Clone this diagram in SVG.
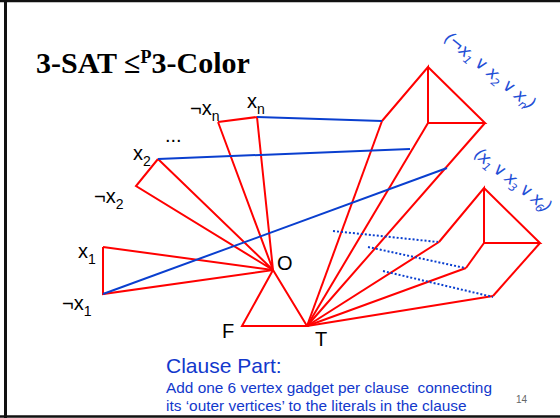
<svg xmlns="http://www.w3.org/2000/svg" width="560" height="418" viewBox="0 0 560 418">
<style>
.red{stroke:#ff0000;stroke-width:2;fill:none;stroke-linejoin:miter}
.blue{stroke:#0a3fcf;stroke-width:2;fill:none}
.dot{stroke:#0a3fcf;stroke-width:2;stroke-dasharray:2 2;fill:none}
.lbl{font-family:"Liberation Sans",Arial,sans-serif;font-size:20px;fill:#000}
.sub{font-size:14px}
.hand{font-family:"DejaVu Sans","Liberation Sans",sans-serif;font-style:italic;font-size:17px;fill:#1f4fd6}
.hsub{font-size:11px}
.note{font-family:"Liberation Sans",Arial,sans-serif;fill:#1238cc}
</style>
<rect x="0" y="0" width="560" height="418" fill="#fff"/>
<g id="frame" fill="none" stroke="#111">
<line x1="0" y1="1" x2="560" y2="1" stroke-width="2.5"/>
<line x1="5.5" y1="0" x2="5.5" y2="418" stroke-width="3"/>
<line x1="0" y1="416.5" x2="560" y2="416.5" stroke-width="2.5"/>
</g>
<text id="title" x="36" y="73" font-family="Liberation Serif,'Times New Roman',serif" font-weight="bold" font-size="30">3-SAT ≤<tspan font-size="18" dy="-10">P</tspan><tspan dy="10">3-Color</tspan></text>
<g id="connectors">
<polyline class="red" points="103,247 103,294 273,270 103,247"/>
<polyline class="red" points="158,159 136,186 273,270 158,159"/>
<polyline class="red" points="218,122 257,117 273,270 218,122"/>
<polygon class="red" points="273,270 242,326 307,326"/>
<line class="red" x1="382" y1="121" x2="307" y2="326"/>
<line class="red" x1="428" y1="123" x2="307" y2="326"/>
<line class="red" x1="485" y1="123" x2="307" y2="326"/>
<polyline class="red" points="382,121 428,67 428,123 485,123 428,67"/>
<line class="red" x1="439" y1="242" x2="307" y2="326"/>
<line class="red" x1="466" y1="268" x2="307" y2="326"/>
<line class="red" x1="493" y1="296" x2="307" y2="326"/>
<polyline class="red" points="439,242 484,188 484,243 540,243 484,188"/>
<line class="red" x1="484" y1="243" x2="466" y2="268"/>
<line class="red" x1="540" y1="243" x2="493" y2="296"/>
<line class="blue" x1="257" y1="117" x2="382" y2="121"/>
<line class="blue" x1="158" y1="159" x2="410" y2="149"/>
<line class="blue" x1="103" y1="294" x2="447" y2="168"/>
<line class="dot" x1="333" y1="231" x2="438" y2="242"/>
<line class="dot" x1="368" y1="247" x2="465" y2="268"/>
<line class="dot" x1="383" y1="271" x2="493" y2="297"/>
</g>
<g id="x1"><text class="lbl" x="78" y="258">x<tspan class="sub" dy="6">1</tspan></text></g>
<g id="not-x1"><text class="lbl" x="62" y="310">¬x<tspan class="sub" dy="6">1</tspan></text></g>
<g id="x2"><text class="lbl" x="133" y="160">x<tspan class="sub" dy="6">2</tspan></text></g>
<g id="not-x2"><text class="lbl" x="94" y="203">¬x<tspan class="sub" dy="6">2</tspan></text></g>
<g id="dots"><text class="lbl" x="165" y="142" font-size="16">...</text></g>
<g id="not-xn"><text class="lbl" x="190" y="115">¬x<tspan class="sub" dy="6">n</tspan></text></g>
<g id="xn"><text class="lbl" x="247" y="108">x<tspan class="sub" dy="6">n</tspan></text></g>
<g id="O"><text class="lbl" x="277" y="270">O</text></g>
<g id="F"><text class="lbl" x="222" y="338">F</text></g>
<g id="T"><text class="lbl" x="315" y="346">T</text></g>
<g id="clause1"><text class="hand" transform="translate(443,40) rotate(39)" textLength="112" lengthAdjust="spacing">(¬x<tspan class="hsub" dy="4">1</tspan><tspan dy="-4"> ∨ x</tspan><tspan class="hsub" dy="4">2</tspan><tspan dy="-4"> ∨ x</tspan><tspan class="hsub" dy="4">n</tspan><tspan dy="-4">)</tspan></text></g>
<g id="clause2"><text class="hand" transform="translate(473,156) rotate(38)" textLength="93" lengthAdjust="spacing">(x<tspan class="hsub" dy="4">1</tspan><tspan dy="-4"> ∨ x</tspan><tspan class="hsub" dy="4">3</tspan><tspan dy="-4"> ∨ x</tspan><tspan class="hsub" dy="4">6</tspan><tspan dy="-4">)</tspan></text></g>
<g id="caption">
<text class="note" x="166" y="373" font-size="21">Clause Part:</text>
<text class="note" x="166" y="393" font-size="15.4" style="white-space:pre">Add one 6 vertex gadget per clause  connecting</text>
<text class="note" x="166" y="411" font-size="15.4">its ‘outer vertices’ to the literals in the clause</text>
<text x="516" y="403" font-family="Liberation Sans,Arial,sans-serif" font-size="10" fill="#666">14</text>
</g>
</svg>
